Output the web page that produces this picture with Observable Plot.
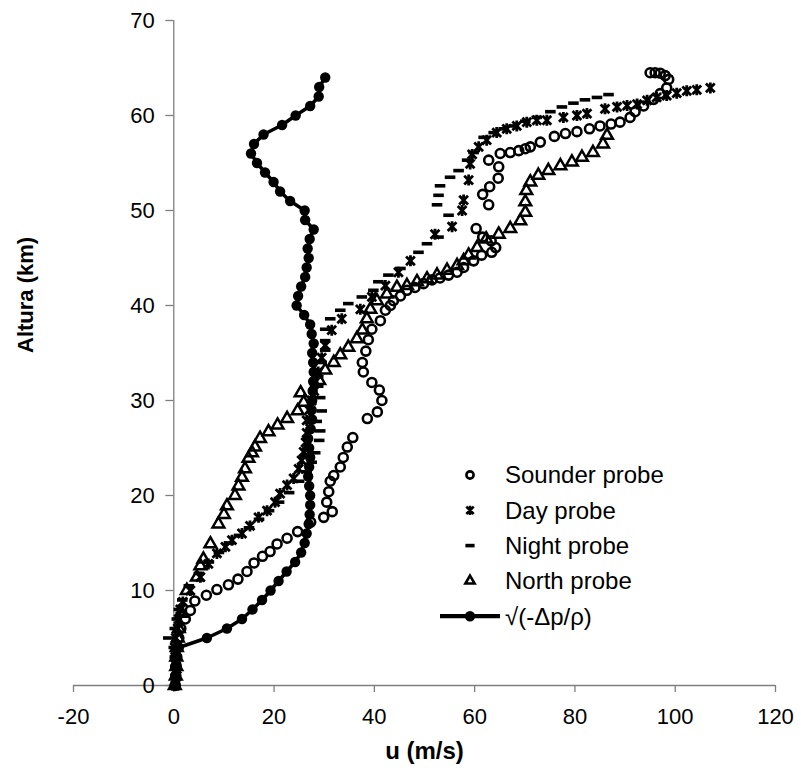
<!DOCTYPE html>
<html><head><meta charset="utf-8">
<script src="https://cdn.jsdelivr.net/npm/d3@7"></script>
<script src="https://cdn.jsdelivr.net/npm/@observablehq/plot@0.6"></script>
<style>
body{margin:0;background:#fff;}
#wrap{position:relative;width:801px;height:773px;font-family:"Liberation Sans",Arial,sans-serif;}
#legend{position:absolute;left:0;top:0;pointer-events:none;}
</style></head><body><div id="wrap"></div>
<script>
const seriesNames = ["Sounder probe","Day probe","Night probe","North probe","√(-Δp/ρ)"];
const xTicks = [-20,0,20,40,60,80,100,120];
const yTicks = [0,10,20,30,40,50,60,70];
const xTitle = "u (m/s)";
const yTitle = "Altura (km)";

const sounderU = [0.3,0.4,0.5,0.6,0.8,1.0,1.4,2.3,3.3,4.2,6.5,8.6,10.9,12.8,14.6,16.0,17.7,19.2,20.6,22.6,24.7,27.3,29.9,31.6,30.5,30.9,31.2,31.9,33.2,33.8,34.6,35.7,38.6,40.6,41.5,41.0,39.5,37.8,37.6,38.3,38.8,39.5,41.2,42.2,43.2,43.8,45.2,46.5,48.1,49.8,51.5,53.1,54.8,56.5,57.8,59.8,61.4,63.4,64.2,63.3,61.6,60.3,62.8,61.6,63.0,64.7,64.8,62.8,65.1,67.1,68.8,70.1,71.1,73.1,75.9,78.1,80.4,82.9,85.0,87.2,89.0,91.0,92.0,93.7,95.7,97.0,98.3,98.7,98.0,97.0,96.0,95.0];
const sounderAlt = [0,1,2,3,4,5,6,7,7.9,8.9,9.5,10.1,10.6,11.2,12.0,12.9,13.6,14.1,14.9,15.5,16.2,17.2,17.7,18.3,19.3,20.4,21.5,22.1,23.0,24.0,25.1,26.1,28.1,28.8,30.0,31.1,31.9,33.0,34.0,35.2,36.4,37.5,38.4,39.5,40.0,40.5,41.0,41.6,41.9,42.3,42.7,42.9,43.2,43.5,44.0,44.7,45.3,45.6,46.1,46.8,47.2,48.1,50.6,51.7,52.5,53.4,54.6,55.3,56.0,56.1,56.3,56.5,56.7,57.2,57.8,58.1,58.3,58.6,58.9,59.1,59.3,59.8,60.4,61.0,61.7,62.3,62.9,63.8,64.2,64.45,64.5,64.5];

const dayU = [0.3,0.6,0.5,0.3,0.2,0.4,0.8,1.0,1.3,1.8,3.3,5.3,6.9,8.6,10.3,11.6,13.6,15.2,16.9,18.6,20.2,21.2,22.6,23.9,24.9,25.5,25.9,26.3,26.5,26.5,27.0,27.5,28.0,28.3,28.8,29.5,30.2,31.5,33.5,37.2,39.5,42.2,44.8,47.2,52.1,55.5,57.5,57.8,58.8,59.1,59.5,60.8,62.4,64.4,66.4,68.4,70.4,72.4,74.4,77.7,80.4,82.4,86.0,88.4,90.4,92.4,94.4,96.3,98.3,100.3,102.3,104.3,107.0];
const dayAlt = [0,1,2,3,4,5,6,7,8,8.8,10.0,11.4,12.8,13.9,14.6,15.3,16.0,16.8,17.7,18.4,19.3,20.2,21.1,21.8,22.8,23.7,24.6,25.6,26.6,27.9,29.0,30.0,31.0,32.0,33.0,34.5,35.8,37.4,38.6,39.6,40.9,42.1,43.5,44.7,47.5,48.3,50.0,51.1,53.2,54.9,55.9,56.7,57.4,58.2,58.6,58.9,59.3,59.5,59.5,59.8,60.0,60.2,60.7,60.9,61.05,61.2,61.6,61.9,62.1,62.35,62.6,62.7,62.9];

const nightU = [0.2,0.3,0.3,0.2,0.0,-1.1,0.2,0.6,1.0,1.7,3.0,5.0,7.0,9.0,11.0,13.0,15.0,17.0,19.0,21.0,23.0,25.0,26.5,27.5,28.2,29.0,29.2,28.5,29.5,29.2,28.8,28.8,29.5,30.2,30.2,30.2,31.2,33.2,34.8,37.5,39.8,40.8,42.8,45.2,48.8,50.5,52.8,54.8,52.5,52.8,53.1,55.1,56.8,58.5,59.8,61.8,63.8,65.8,67.8,70.1,72.4,75.1,77.4,79.7,82.0,84.4,86.7];
const nightAlt = [0,1,2,3,4,5,6,7,8,9,10.5,11.8,13,14,15,15.8,16.6,17.5,18.4,19.3,20.3,21.5,22.5,23.5,24.5,25.8,26.8,27.8,28.9,30.3,31.5,32.5,34.0,35.3,36.3,37.5,38.6,39.5,40.2,40.9,41.6,42.5,43.2,43.9,45.6,46.5,47.2,49.5,50.6,51.6,52.6,53.5,54.2,55.3,56.1,57.7,58.2,58.6,58.9,59.4,59.8,60.4,60.9,61.3,61.65,61.9,62.2];

const northU = [0.2,0.4,0.5,0.5,0.6,0.8,1.0,1.6,2.6,4.6,5.3,5.9,7.3,8.9,10.0,10.6,12.2,12.9,13.6,14.2,14.9,15.6,16.2,17.2,18.9,20.7,22.6,24.7,25.9,25.3,29.0,30.2,31.9,33.2,34.8,36.5,37.6,38.5,39.2,40.5,42.5,44.5,46.5,48.5,50.5,52.5,54.5,56.5,57.8,58.8,60.5,62.3,64.8,67.1,69.1,70.1,70.1,70.3,71.1,72.7,74.7,77.1,79.4,81.4,83.6,85.6,86.4];
const northAlt = [0,1,2,3,4,5,6,7.6,10.0,11.4,12.6,13.3,14.9,17.0,18.0,18.9,20.0,21.0,21.9,22.8,23.9,24.5,25.1,26.0,26.7,27.4,28.1,28.9,29.8,30.8,32.1,33.2,34.0,34.8,35.6,36.5,37.4,38.6,39.6,40.5,41.2,41.9,42.1,42.5,42.8,43.2,43.7,44.2,44.7,45.3,46.1,47.0,47.5,48.1,48.9,49.8,50.9,52.1,53.0,53.7,54.2,54.7,55.1,55.6,56.1,57.0,57.9];

const sqrtAlt = d3.range(0, 65);
const sqrtU = [0.3,0.3,0.3,0.3,1.0,6.6,10.6,13.6,15.7,17.6,19.3,20.9,22.5,24.2,25.4,26.1,26.5,26.9,27.1,27.2,27.2,27.0,26.8,27.0,27.2,27.0,26.8,27.3,27.6,27.5,27.6,27.7,27.8,27.9,27.8,27.6,27.9,27.5,27.2,26.0,24.5,24.8,25.4,26.2,26.5,26.9,26.7,27.1,27.9,26.2,26.1,23.2,21.2,19.9,18.2,16.6,15.4,16.0,17.9,21.6,24.3,27.2,28.9,29.0,30.2];

const zip = (u, a) => u.map((v, i) => ({u: v, alt: a[i]}));
const sounder = zip(sounderU, sounderAlt);
const day = zip(dayU, dayAlt);
const night = zip(nightU, nightAlt);
const north = zip(northU, northAlt);
const sq = zip(sqrtU, sqrtAlt);

const starX = {draw(ctx, size){ const r = Math.sqrt(size/Math.PI); const d = r*0.8;
  ctx.moveTo(-d,-d); ctx.lineTo(d,d); ctx.moveTo(-d,d); ctx.lineTo(d,-d); ctx.moveTo(0,-r); ctx.lineTo(0,r);} };
const dash = {draw(ctx, size){ const r = Math.sqrt(size/Math.PI); ctx.moveTo(-r*1.15,0); ctx.lineTo(r*1.15,0);} };
const symbols = [d3.symbolCircle, starX, dash, d3.symbolTriangle2];

const font = "Liberation Sans, Arial, sans-serif";
const fmt = d => String(d);
const plot = Plot.plot({
  width: 801, height: 773,
  marginLeft: 73, marginRight: 26, marginTop: 20, marginBottom: 88,
  x: {domain: [-20, 120], label: null},
  y: {domain: [0, 70], label: null},
  style: {fontFamily: font, fontSize: "22px", color: "#000", background: "#fff", overflow: "visible"},
  marks: [
    Plot.ruleY([0], {stroke: "#7f7f7f", strokeWidth: 1.3}),
    Plot.ruleX([0], {y1: 0, y2: 70, stroke: "#7f7f7f", strokeWidth: 1.3}),
    Plot.axisX({ticks: xTicks, tickFormat: fmt, tickSize: 7, tickPadding: 16, stroke: "#7f7f7f", strokeWidth: 1.3, fill: "#000", fontSize: 22, label: null}),
    Plot.axisY({ticks: yTicks, tickFormat: fmt, x: 0, tickSize: 8, tickPadding: 11, stroke: "#7f7f7f", strokeWidth: 1.3, fill: "#000", fontSize: 22, label: null}),
    Plot.text([xTitle], {frameAnchor: "bottom", dy: 73, fontWeight: "bold", fontSize: 24, fill: "#000"}),
    Plot.text([yTitle], {frameAnchor: "left", dx: -48, rotate: -90, fontWeight: "bold", fontSize: 22, fill: "#000"}),
    Plot.dot(sounder, {x: "u", y: "alt", symbol: symbols[0], r: 4.5, stroke: "#000", strokeWidth: 2.6, fill: "none"}),
    Plot.dot(day, {x: "u", y: "alt", symbol: symbols[1], r: 5.5, stroke: "#000", strokeWidth: 2.8, fill: "none"}),
    Plot.dot(night, {x: "u", y: "alt", symbol: symbols[2], r: 4.6, stroke: "#000", strokeWidth: 3.6, fill: "none"}),
    Plot.dot(north, {x: "u", y: "alt", symbol: symbols[3], r: 5.6, stroke: "#000", strokeWidth: 2.5, fill: "none"}),
    Plot.line(sq, {x: "u", y: "alt", stroke: "#000", strokeWidth: 3.5}),
    Plot.dot(sq, {x: "u", y: "alt", r: 5.2, fill: "#000", stroke: "none"})
  ]
});
const wrap = document.getElementById("wrap");
wrap.appendChild(plot);

// Legend overlay
const lg = d3.select(wrap).append("svg").attr("id", "legend").attr("width", 801).attr("height", 773)
  .style("font-family", font);
const lx = 470, tx = 505, ly0 = 475, lstep = 35.3;
seriesNames.forEach((name, i) => {
  const y = ly0 + i * lstep;
  const g = lg.append("g");
  if (i < 4) {
    const sizeR = [3.6, 4.6, 4.0, 4.4][i];
    g.append("path")
      .attr("d", d3.symbol(symbols[i], Math.PI * sizeR * sizeR)())
      .attr("transform", `translate(${lx},${y})`)
      .attr("fill", "none").attr("stroke", "#000")
      .attr("stroke-width", i === 2 ? 3.6 : 2.6);
  } else {
    g.append("line").attr("x1", 440).attr("x2", 500).attr("y1", y).attr("y2", y)
      .attr("stroke", "#000").attr("stroke-width", 4.2);
    g.append("circle").attr("cx", lx).attr("cy", y).attr("r", 5.2).attr("fill", "#000");
  }
  g.append("text").attr("x", tx).attr("y", y).attr("dy", "0.35em")
    .attr("font-size", 24).attr("fill", "#000").text(name);
});
</script>
</body></html>
